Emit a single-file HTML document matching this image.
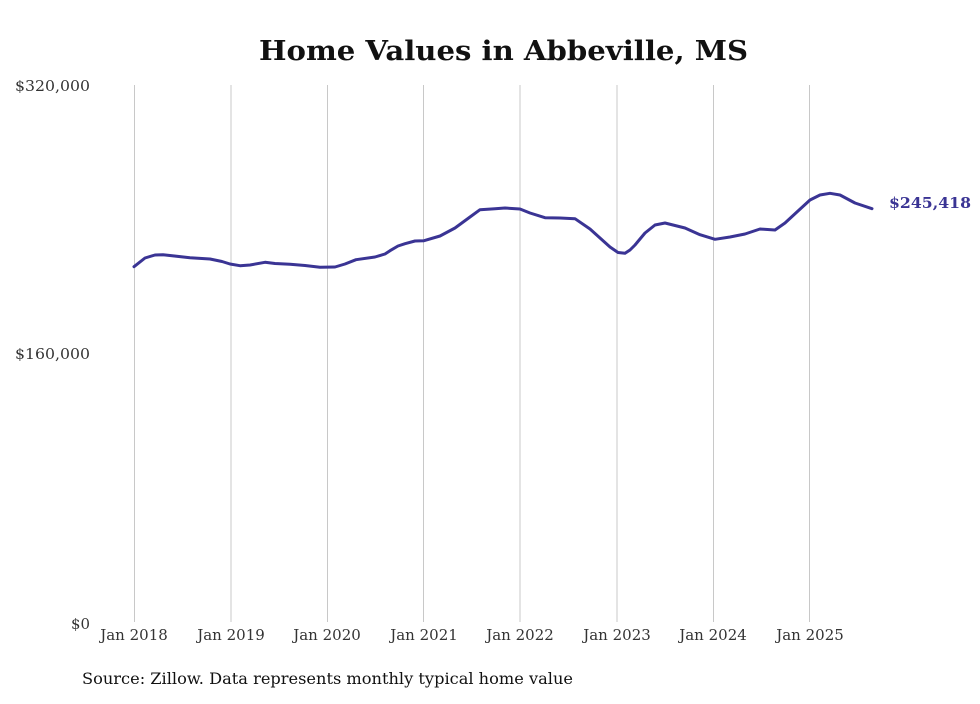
<!DOCTYPE html>
<html><head><style>body{margin:0;background:#fff}</style></head><body>
<svg width="980" height="699" xmlns="http://www.w3.org/2000/svg" font-family="DejaVu Serif, Liberation Serif, serif">
<text x="259" y="60" font-size="27" font-weight="bold" fill="#111" textLength="489" lengthAdjust="spacingAndGlyphs">Home Values in Abbeville, MS</text>
<g stroke="#c8c8c8" stroke-width="1">
<line x1="134.5" y1="85" x2="134.5" y2="622"/><line x1="231" y1="85" x2="231" y2="622"/>
<line x1="327.5" y1="85" x2="327.5" y2="622"/><line x1="423.5" y1="85" x2="423.5" y2="622"/>
<line x1="520" y1="85" x2="520" y2="622"/><line x1="617" y1="85" x2="617" y2="622"/>
<line x1="713.5" y1="85" x2="713.5" y2="622"/><line x1="809.5" y1="85" x2="809.5" y2="622"/>
</g>
<g font-size="15" fill="#333">
<text x="15" y="91" textLength="75" lengthAdjust="spacingAndGlyphs">$320,000</text>
<text x="15" y="359" textLength="75" lengthAdjust="spacingAndGlyphs">$160,000</text>
<text x="71" y="629" textLength="19" lengthAdjust="spacingAndGlyphs">$0</text>
</g>
<g font-size="15" fill="#333" text-anchor="middle">
<text x="134" y="640">Jan 2018</text><text x="231" y="640">Jan 2019</text><text x="327" y="640">Jan 2020</text>
<text x="424" y="640">Jan 2021</text><text x="520" y="640">Jan 2022</text><text x="617" y="640">Jan 2023</text>
<text x="713" y="640">Jan 2024</text><text x="810" y="640">Jan 2025</text>
</g>
<polyline fill="none" stroke="#3a3494" stroke-width="3" stroke-linejoin="round" stroke-linecap="round"
points="134,266.7 145,258 155,255 163,254.7 190,257.7 210,259 222,261.5 230,264 240,265.7 250,265 265,262.3 275,263.5 290,264.3 305,265.5 320,267.3 335,267 345,264 356,259.7 375,257 385,254 390,250.7 398,246 405,243.7 415,241 424,240.7 440,236 455,228 470,217 480,209.7 495,208.7 505,208 520,209 530,213 545,217.7 560,218 575,218.7 590,229 610,247 618,252.5 625,253.3 630,250 635,245 645,233 655,225 665,223 685,228 700,234.7 715,239.3 730,237 745,234 760,229 775,230 785,223 798,211 810,200 820,195 830,193.3 840,195 855,203 872,208.7"/>
<text x="889" y="208" font-size="15" font-weight="bold" fill="#3a3494" textLength="82" lengthAdjust="spacingAndGlyphs">$245,418</text>
<text x="82" y="684" font-size="16" fill="#111" textLength="491" lengthAdjust="spacingAndGlyphs">Source: Zillow. Data represents monthly typical home value</text>
</svg>
</body></html>
